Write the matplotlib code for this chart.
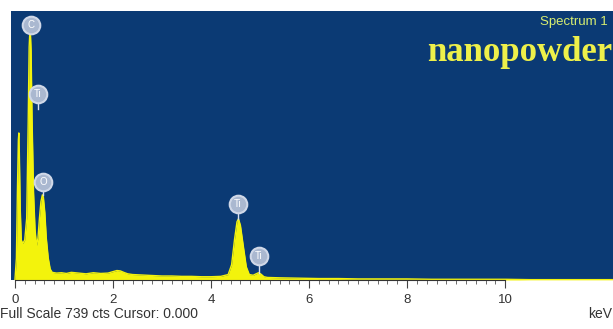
import matplotlib
matplotlib.use("Agg")
import matplotlib.pyplot as plt
import numpy as np

# Spectrum (keV, counts)
energy = [0.00, 0.03, 0.05, 0.07, 0.08, 0.09, 0.11, 0.13, 0.16, 0.20, 0.24, 0.27, 0.29, 0.31,
          0.33, 0.35, 0.38, 0.41, 0.44, 0.47, 0.50, 0.53, 0.56, 0.58, 0.61, 0.64, 0.68, 0.72,
          0.76, 0.85, 0.95, 1.05, 1.15, 1.30, 1.45, 1.60, 1.75, 1.90, 2.00, 2.08, 2.15, 2.22,
          2.30, 2.40, 2.55, 2.70, 2.85, 3.00, 3.20, 3.40, 3.60, 3.80, 4.00, 4.20, 4.35, 4.42,
          4.48, 4.53, 4.56, 4.60, 4.66, 4.72, 4.78, 4.86, 4.92, 4.97, 5.02, 5.08, 5.15, 5.40,
          5.80, 6.20, 6.60, 7.00, 7.50, 8.00, 8.50, 9.00, 9.50, 10.00, 10.50, 11.00, 11.50,
          12.20]
counts = [0, 60, 240, 385, 404, 350, 190, 110, 100, 110, 170, 430, 640, 700,
          630, 440, 240, 140, 95, 115, 170, 215, 234, 228, 185, 115, 60, 30,
          21, 19, 20, 18, 21, 19, 17, 20, 18, 19, 23, 26, 25, 21,
          17, 15, 14, 13, 12, 11, 11, 10, 10, 9, 9, 10, 15, 42,
          112, 160, 168, 150, 92, 36, 15, 13, 17, 20, 16, 9, 7, 6,
          5, 4, 4, 3, 3, 3, 2, 2, 2, 2, 1, 1, 1,
          1]

# Element markers
label_elems = ["C", "Ti", "O", "Ti", "Ti"]
label_energy = [0.33, 0.47, 0.58, 4.55, 4.97]
label_counts = [700, 512, 270, 208, 65]
peak_counts = [700, 470, 234, 168, 20]

full_scale = 739
x_ticks = [0, 2, 4, 6, 8, 10]

BG = "#0b3a74"
YEL = "#f3f30c"

fig = plt.figure(figsize=(6.13, 3.29), dpi=100)
ax = fig.add_axes([11 / 613, 49 / 329, 602 / 613, 269 / 329])
ax.set_facecolor(BG)
ax.fill_between(energy, counts, 0, color=YEL, lw=0)
ax.plot(energy, counts, color=YEL, lw=1.0)

ax.set_xlim(-0.08, 12.2)
ax.set_ylim(0, full_scale)

# stems + markers
for e, c, p in zip(label_energy, label_counts, peak_counts):
    ax.plot([e, e], [p, c], color="#d8e0ee", lw=1.0, zorder=3)
ax.scatter(label_energy, label_counts, s=160, color="#aab8d0", edgecolors="#d0d8e8",
           linewidths=1.5, zorder=4)
for el, e, c in zip(label_elems, label_energy, label_counts):
    ax.text(e, c, el, color="white", fontsize=7, ha="center", va="center",
            family="Liberation Sans", zorder=5)

for s in ["top", "right", "left"]:
    ax.spines[s].set_visible(False)
ax.spines["bottom"].set_bounds(0, 10)
ax.spines["bottom"].set_color("#333333")
ax.set_xticks(x_ticks)
ax.set_xticklabels([str(t) for t in x_ticks], family="Liberation Sans", fontsize=9.5,
                   color="#333333")
ax.set_xticks(np.arange(0, 10.01, 0.2), minor=True)
ax.tick_params(axis="x", which="major", length=6, width=0.8, color="#444444", pad=4)
ax.tick_params(axis="x", which="minor", length=3, width=0.6, color="#555555")
ax.set_yticks([])

ax.text(0.992, 0.948, "Spectrum 1", transform=ax.transAxes, ha="right", va="baseline",
        color="#d8ee70", fontsize=9.5, family="Liberation Sans")
ax.text(0.998, 0.814, "nanopowder", transform=ax.transAxes, ha="right", va="baseline",
        color="#eef04a", fontsize=25, family="Liberation Serif", fontweight="bold")

fig.text(0.0, 1 - 318 / 329, "Full Scale 739 cts Cursor: 0.000", ha="left", va="baseline",
         fontsize=10, color="#333333", family="Liberation Sans")
fig.text(0.999, 1 - 318 / 329, "keV", ha="right", va="baseline",
         fontsize=10, color="#333333", family="Liberation Sans")

fig.savefig("out.png", dpi=100)
